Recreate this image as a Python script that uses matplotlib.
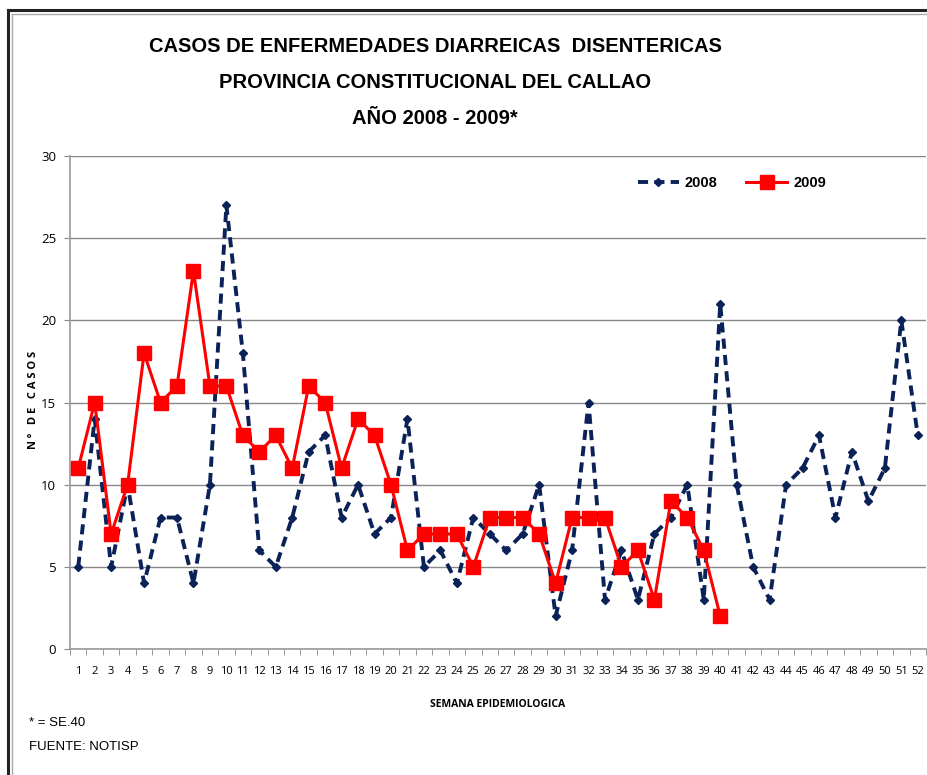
import matplotlib
matplotlib.use("Agg")
import matplotlib.pyplot as plt
from matplotlib.lines import Line2D

weeks = list(range(1, 53))
cases_2008 = [5, 14, 5, 10, 4, 8, 8, 4, 10, 27, 18, 6, 5, 8, 12, 13, 8, 10, 7, 8,
              14, 5, 6, 4, 8, 7, 6, 7, 10, 2, 6, 15, 3, 6, 3, 7, 8, 10, 3, 21,
              10, 5, 3, 10, 11, 13, 8, 12, 9, 11, 20, 13]
weeks_2009 = list(range(1, 41))
cases_2009 = [11, 15, 7, 10, 18, 15, 16, 23, 16, 16, 13, 12, 13, 11, 16, 15, 11, 14, 13, 10,
              6, 7, 7, 7, 5, 8, 8, 8, 7, 4, 8, 8, 8, 5, 6, 3, 9, 8, 6, 2]
y_ticks = [0, 5, 10, 15, 20, 25, 30]

title_lines = ["CASOS DE ENFERMEDADES DIARREICAS  DISENTERICAS",
               "PROVINCIA CONSTITUCIONAL DEL CALLAO",
               "AÑO 2008 - 2009*"]

narrow = ['Liberation Sans', 'DejaVu Sans']
plt.rcParams['font.family'] = ['Open Sans', 'DejaVu Sans']

W, H = 927, 775
fig = plt.figure(figsize=(W / 100, H / 100), dpi=100)
fig.patch.set_facecolor('white')

# outer frame
fig.add_artist(Line2D([8 / W, 8 / W], [0, 1 - 10 / H], transform=fig.transFigure, color='#222222', lw=2.2))
fig.add_artist(Line2D([8 / W, 1], [1 - 10 / H, 1 - 10 / H], transform=fig.transFigure, color='#222222', lw=2.2))
fig.add_artist(Line2D([12 / W, 12 / W], [0, 1 - 14 / H], transform=fig.transFigure, color='#aaaaaa', lw=1.0))
fig.add_artist(Line2D([12 / W, 1], [1 - 14 / H, 1 - 14 / H], transform=fig.transFigure, color='#aaaaaa', lw=1.0))

left, right = 70 / W, 926 / W
bottom, top = (H - 649) / H, (H - 156) / H
ax = fig.add_axes([left, bottom, right - left, top - bottom])

ax.plot(weeks, cases_2008, color='#0a2257', lw=2.8, linestyle=(0, (2.6, 1.6)),
        marker='D', markersize=4.5, markerfacecolor='#0a2257', markeredgecolor='#0a2257',
        label='2008', zorder=3)
ax.plot(weeks_2009, cases_2009, color='#ff0000', lw=2.2, marker='s', markersize=10,
        markerfacecolor='#ff0000', markeredgecolor='#ff0000', label='2009', zorder=4)

ax.set_xlim(0.5, 52.5)
ax.set_ylim(0, 30)
ax.set_yticks(y_ticks)
ax.set_yticklabels([str(v) for v in y_ticks], fontsize=9.5)
ax.set_xticks(weeks)
ax.set_xticklabels([str(w) for w in weeks], fontsize=8)
ax.set_xticks([w + 0.5 for w in range(0, 53)], minor=True)
ax.tick_params(axis='x', which='major', length=0, pad=12)
ax.tick_params(axis='x', which='minor', length=4, color='#888888', direction='out')
ax.tick_params(axis='y', length=4, color='#888888', direction='out', pad=6)
ax.grid(axis='y', color='#888888', lw=1.0)
ax.set_axisbelow(True)
for s in ['top', 'right']:
    ax.spines[s].set_visible(False)
for s in ['left', 'bottom']:
    ax.spines[s].set_color('#999999')
    ax.spines[s].set_linewidth(1.2)

leg = ax.legend(loc='upper right', bbox_to_anchor=(836 / W, (H - 166) / H), bbox_transform=fig.transFigure,
                ncol=2, frameon=False, handlelength=2.8, columnspacing=2.0, handletextpad=0.4,
                borderpad=0.2, prop={'family': narrow, 'weight': 'bold', 'size': 10.5})

ax.set_xlabel("SEMANA EPIDEMIOLOGICA", fontsize=7.5, fontweight='bold', labelpad=16)
fig.text(33 / W, 1 - 400 / H, "N º   D E   C A S O S", rotation=90, ha='center', va='center',
         fontsize=8, fontweight='bold')

for i, line in enumerate(title_lines):
    fig.text(435 / W, 1 - (46 + i * 36) / H, line, ha='center', va='center',
             fontsize=14.5, fontweight='bold', family=narrow)

fig.text(29 / W, 1 - 723 / H, "* = SE.40", ha='left', va='center', fontsize=9.5, family=narrow)
fig.text(29 / W, 1 - 747 / H, "FUENTE: NOTISP", ha='left', va='center', fontsize=9.5, family=narrow)

fig.savefig("out.png", dpi=100, facecolor='white')
